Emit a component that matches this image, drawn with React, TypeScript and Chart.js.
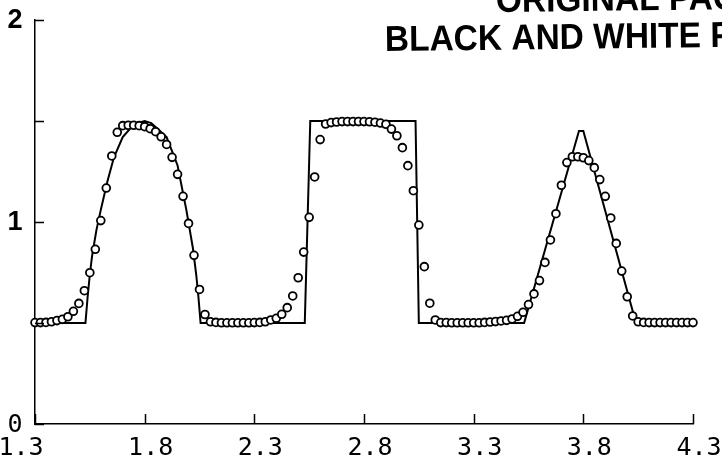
import React, { useEffect, useRef } from "react";
import { Chart, registerables } from "chart.js";

Chart.register(...registerables);

// Axis ticks and labels
const xTickValues = [1.3, 1.8, 2.3, 2.8, 3.3, 3.8, 4.3];
const xTickLabels = ["1.3", "1.8", "2.3", "2.8", "3.3", "3.8", "4.3"];
const yTickValues = [0, 0.5, 1, 1.5, 2];
const yLabelValues = [0, 1, 2];
const yLabelTexts = ["0", "1", "2"];

// Exact profile: semi-ellipse, square pulse, triangle on a 0.5 background
const exactX = [
  1.3, 1.53, 1.54, 1.55, 1.56, 1.58, 1.6, 1.63, 1.66, 1.7, 1.74, 1.77, 1.8,
  1.83, 1.86, 1.9, 1.95, 1.99, 2.02, 2.035, 2.045, 2.055,
  2.53, 2.555, 3.035, 3.05,
  3.53, 3.78, 3.8, 4.04, 4.3,
];
const exactY = [
  0.5, 0.5, 0.63, 0.74, 0.83, 0.96, 1.06, 1.2, 1.32, 1.42, 1.47, 1.49, 1.5,
  1.49, 1.46, 1.42, 1.28, 1.06, 0.87, 0.74, 0.63, 0.5,
  0.5, 1.5, 1.5, 0.5,
  0.5, 1.45, 1.45, 0.5, 0.5,
];

// Computed solution on the grid nodes
const gridX = [
  1.3, 1.325, 1.35, 1.375, 1.4, 1.425, 1.45, 1.475, 1.5, 1.525,
  1.55, 1.575, 1.6, 1.625, 1.65, 1.675, 1.7, 1.725, 1.75, 1.775,
  1.8, 1.825, 1.85, 1.875, 1.9, 1.925, 1.95, 1.975, 2.0, 2.025,
  2.05, 2.075, 2.1, 2.125, 2.15, 2.175, 2.2, 2.225, 2.25, 2.275,
  2.3, 2.325, 2.35, 2.375, 2.4, 2.425, 2.45, 2.475, 2.5, 2.525,
  2.55, 2.575, 2.6, 2.625, 2.65, 2.675, 2.7, 2.725, 2.75, 2.775,
  2.8, 2.825, 2.85, 2.875, 2.9, 2.925, 2.95, 2.975, 3.0, 3.025,
  3.05, 3.075, 3.1, 3.125, 3.15, 3.175, 3.2, 3.225, 3.25, 3.275,
  3.3, 3.325, 3.35, 3.375, 3.4, 3.425, 3.45, 3.475, 3.5, 3.525,
  3.55, 3.575, 3.6, 3.625, 3.65, 3.675, 3.7, 3.725, 3.75, 3.775,
  3.8, 3.825, 3.85, 3.875, 3.9, 3.925, 3.95, 3.975, 4.0, 4.025,
  4.05, 4.075, 4.1, 4.125, 4.15, 4.175, 4.2, 4.225, 4.25, 4.275,
  4.3,
];
const gridY = [
  0.502, 0.502, 0.503, 0.506, 0.512, 0.518, 0.531, 0.558, 0.597, 0.66,
  0.749, 0.865, 1.007, 1.168, 1.327, 1.444, 1.477, 1.479, 1.479, 1.477,
  1.472, 1.462, 1.447, 1.422, 1.384, 1.32, 1.236, 1.127, 0.993, 0.835,
  0.666, 0.542, 0.506, 0.503, 0.501, 0.501, 0.501, 0.501, 0.501, 0.501,
  0.502, 0.503, 0.506, 0.515, 0.523, 0.543, 0.576, 0.634, 0.724, 0.851,
  1.023, 1.223, 1.408, 1.485, 1.492, 1.495, 1.497, 1.497, 1.497, 1.497,
  1.497, 1.496, 1.494, 1.49, 1.484, 1.46, 1.427, 1.368, 1.279, 1.155,
  0.985, 0.779, 0.598, 0.515, 0.502, 0.502, 0.501, 0.501, 0.501, 0.501,
  0.501, 0.501, 0.503, 0.505, 0.507, 0.51, 0.513, 0.52, 0.533, 0.553,
  0.591, 0.644, 0.71, 0.8, 0.911, 1.041, 1.182, 1.294, 1.323, 1.323,
  1.318, 1.304, 1.269, 1.21, 1.127, 1.02, 0.894, 0.757, 0.63, 0.535,
  0.506, 0.503, 0.502, 0.502, 0.502, 0.502, 0.502, 0.502, 0.502, 0.502,
  0.502,
];

const INK = "#000000";

// Inward tick marks, axis labels and the archive stamp
const decorations = {
  id: "decorations",
  afterDraw(chart: any) {
    const { ctx } = chart;
    const xs = chart.scales.x;
    const ys = chart.scales.y;
    const left = xs.left;
    const bottom = ys.bottom;

    ctx.save();
    ctx.strokeStyle = INK;
    ctx.lineWidth = 1.5;
    ctx.beginPath();
    xTickValues.forEach((v) => {
      const px = Math.round(xs.getPixelForValue(v)) + 0.5;
      ctx.moveTo(px, bottom);
      ctx.lineTo(px, bottom - 10);
    });
    yTickValues.forEach((v) => {
      const py = Math.round(ys.getPixelForValue(v)) + 0.5;
      ctx.moveTo(left, py);
      ctx.lineTo(left + 9, py);
    });
    ctx.stroke();

    ctx.fillStyle = INK;
    ctx.font = "25px 'DejaVu Sans Mono'";
    ctx.textAlign = "center";
    ctx.textBaseline = "alphabetic";
    xTickValues.forEach((v, i) => {
      const px = xs.getPixelForValue(v);
      const shift = i === 0 ? -14 : 6;
      ctx.fillText(xTickLabels[i], px + shift, 455);
    });

    ctx.textBaseline = "middle";
    yLabelValues.forEach((v, i) => {
      const py = ys.getPixelForValue(v);
      ctx.font = i === 0 ? "25px 'DejaVu Sans Mono'" : "bold 27px 'Liberation Sans'";
      ctx.fillText(yLabelTexts[i], 15, py + 1);
    });

    ctx.textAlign = "left";
    ctx.textBaseline = "alphabetic";
    ctx.font = "bold 36px 'Liberation Sans'";
    ctx.save();
    ctx.translate(385, 51);
    ctx.rotate(-0.012);
    ctx.scale(0.93, 1);
    ctx.fillText("BLACK AND WHITE PHOTOGRAPH", 0, 0);
    ctx.restore();
    ctx.save();
    ctx.translate(496, 12);
    ctx.rotate(-0.012);
    ctx.scale(0.93, 1);
    ctx.fillText("ORIGINAL PAGE IS", 0, 0);
    ctx.restore();
    ctx.restore();
  },
};

export default function App() {
  const canvasRef = useRef<HTMLCanvasElement | null>(null);

  useEffect(() => {
    if (!canvasRef.current) return;
    const chart = new Chart(canvasRef.current, {
      type: "scatter",
      data: {
        datasets: [
          {
            label: "computed",
            data: gridX.map((x, i) => ({ x, y: gridY[i] })),
            showLine: false,
            pointRadius: 3.9,
            pointBorderWidth: 1.8,
            pointBorderColor: INK,
            pointBackgroundColor: "#ffffff",
            order: 0,
            clip: false as any,
          },
          {
            label: "exact",
            data: exactX.map((x, i) => ({ x, y: exactY[i] })),
            showLine: true,
            borderColor: INK,
            borderWidth: 2,
            pointRadius: 0,
            tension: 0,
            order: 1,
            clip: false as any,
          },
        ],
      },
      options: {
        responsive: false,
        animation: false,
        layout: { padding: { left: 35, right: 29, top: 20, bottom: 33 } },
        plugins: {
          legend: { display: false },
          tooltip: { enabled: false },
        },
        scales: {
          x: {
            type: "linear",
            min: 1.3,
            max: 4.3,
            ticks: { display: false },
            grid: { display: false, drawTicks: false },
            border: { display: true, color: INK, width: 1.5 },
          },
          y: {
            type: "linear",
            min: 0,
            max: 2,
            ticks: { display: false },
            grid: { display: false, drawTicks: false },
            border: { display: true, color: INK, width: 1.5 },
          },
        },
      },
      plugins: [decorations],
    });
    return () => chart.destroy();
  }, []);

  return (
    <div style={{ position: "absolute", left: 0, top: 0, width: 722, height: 457, background: "#fff" }}>
      <canvas ref={canvasRef} width={722} height={457} />
    </div>
  );
}
